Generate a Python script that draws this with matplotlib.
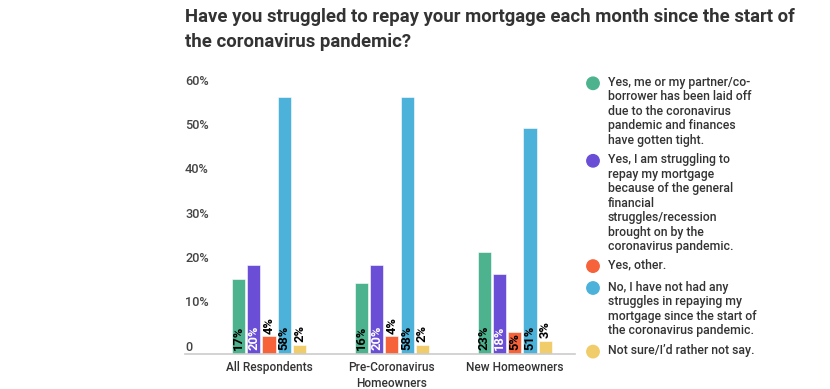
import matplotlib
matplotlib.use("Agg")
import matplotlib.pyplot as plt
import matplotlib.transforms as mtransforms
import numpy as np

plt.rcParams["font.family"] = ["Roboto", "DejaVu Sans"]

# Data
groups = ["All Respondents", "Pre-Coronavirus\nHomeowners", "New Homeowners"]
answers = [
    "Yes, me or my partner/co-\nborrower has been laid off\ndue to the coronavirus\npandemic and finances\nhave gotten tight.",
    "Yes, I am struggling to\nrepay my mortgage\nbecause of the general\nfinancial\nstruggles/recession\nbrought on by the\ncoronavirus pandemic.",
    "Yes, other.",
    "No, I have not had any\nstruggles in repaying my\nmortgage since the start of\nthe coronavirus pandemic.",
    "Not sure/I\u2019d rather not say.",
]
laid_off = [17, 16, 23]
struggling = [20, 20, 18]
other = [4, 4, 5]
no_struggle = [58, 58, 51]
not_sure = [2, 2, 3]
series = [laid_off, struggling, other, no_struggle, not_sure]
colors = ["#4db38e", "#6a4fd6", "#f6623a", "#4db2da", "#f0cc6b"]
label_colors = ["black", "white", "black", "black", "black"]
yticks = [0, 10, 20, 30, 40, 50, 60]
ytick_labels = ["0", "10%", "20%", "30%", "40%", "50%", "60%"]

W, H = 830, 389
fig = plt.figure(figsize=(W / 100, H / 100), dpi=100)
ax = fig.add_axes([185 / W, (H - 354) / H, 390 / W, (354 - 88) / H])

x = np.arange(len(groups))
pitch = 0.1245
width = 0.108
for i, vals in enumerate(series):
    pos = x + (i - 2) * pitch
    ax.bar(pos, vals, width=width, color=colors[i], edgecolor="white", linewidth=0.4)
    for px, v in zip(pos, vals):
        if v >= 5:
            ax.text(px, 0.8, f"{v}%", rotation=90, ha="center", va="bottom",
                    fontsize=9.3, fontweight="bold", color=label_colors[i])
        else:
            ax.text(px, v + 0.6, f"{v}%", rotation=90, ha="center", va="bottom",
                    fontsize=9.3, fontweight="bold", color="black")

ax.set_xlim(-0.683, 2.49)
ax.set_ylim(0, 60)
ax.set_xticks(x)
ax.set_xticklabels(groups, fontsize=8.6, color="#333333", linespacing=1.3,
                   fontweight="medium")
ax.tick_params(axis="x", length=0, pad=5)
ax.set_yticks([])
for s in ["top", "right", "left"]:
    ax.spines[s].set_visible(False)
ax.spines["bottom"].set_color("#cccccc")
ax.spines["bottom"].set_linewidth(1.2)

trans = mtransforms.blended_transform_factory(ax.transAxes, ax.transData)
for v, lab in zip(yticks, ytick_labels):
    ax.text(0, v + 1.55, lab, transform=trans, ha="left", va="center",
            fontsize=9.2, color="#444444", fontweight="medium")

# Title
fig.text(185 / W, 1 - 17 / H, "Have you struggled to repay your mortgage each month since the start of",
         fontsize=13.3, fontweight="bold", color="#333333", va="center")
fig.text(185 / W, 1 - 42 / H, "the coronavirus pandemic?",
         fontsize=13.3, fontweight="bold", color="#333333", va="center")

# Legend, drawn on a pixel-coordinate overlay
ov = fig.add_axes([0, 0, 1, 1], zorder=-1)
ov.set_xlim(0, W)
ov.set_ylim(H, 0)
ov.axis("off")
line_h = 13.9
gap = 8
y = 83.3
for c, txt in zip(colors, answers):
    ov.add_patch(plt.Circle((593, y), 6.2, color=c))
    ov.text(608, y - line_h / 2 - 0.5, txt, fontsize=8.8, color="#333333",
            va="top", ha="left", linespacing=1.15, fontweight="medium")
    y += txt.count("\n") * line_h + line_h + gap

fig.savefig("out.png", dpi=100)
